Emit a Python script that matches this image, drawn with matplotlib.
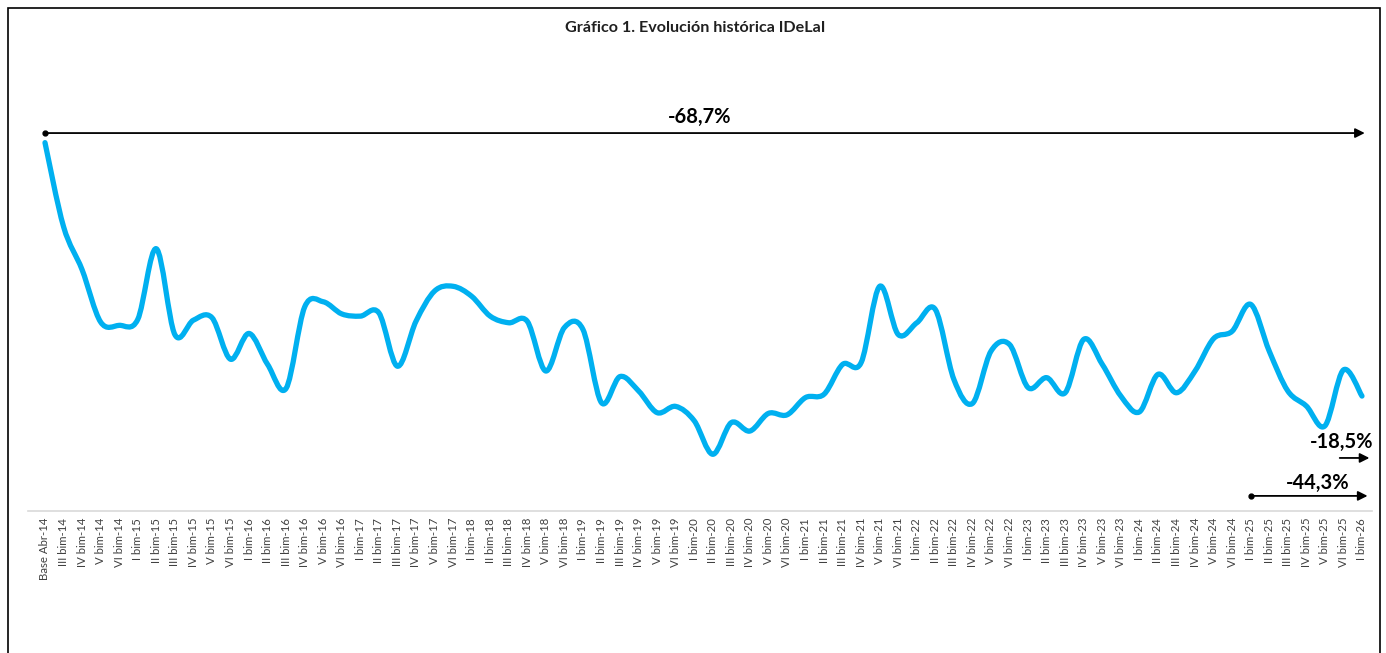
"""
Gráfico 1. Evolución histórica del IDeLaI
Índice con base Abr-14 = 100, línea suavizada al estilo Excel
"""

import matplotlib
matplotlib.use('Agg')
import matplotlib.pyplot as plt
from matplotlib.path import Path
from matplotlib.patches import PathPatch, Rectangle

plt.rcParams['font.family'] = ['Lato', 'DejaVu Sans']

# Categorías (bimestres)
romanos = ['I', 'II', 'III', 'IV', 'V', 'VI']
periodos = (['Base Abr-14'] + [f'{r} bim-14' for r in romanos[2:]]
            + [f'{r} bim-{a}' for a in range(15, 26) for r in romanos]
            + ['I bim-26'])

# Valores del índice
indice = [100.0, 77.2, 65.5, 51.3, 50.4, 52.0, 71.2, 47.9, 51.8, 52.5,
          41.2, 48.2, 39.8, 33.3, 55.4, 56.8, 53.5, 52.9, 53.8, 39.3,
          51.5, 59.7, 61.0, 58.3, 52.9, 51.1, 51.5, 38.0, 49.8, 49.3,
          29.4, 36.5, 32.6, 26.7, 28.4, 24.5, 15.4, 24.0, 21.7, 26.5,
          26.1, 30.8, 31.7, 39.8, 40.3, 61.0, 47.9, 51.1, 54.7, 35.7,
          29.2, 43.4, 45.2, 33.5, 36.2, 32.1, 46.6, 39.8, 31.2, 26.9,
          37.1, 32.1, 38.0, 46.8, 48.8, 56.1, 43.4, 32.6, 28.5, 23.1,
          38.3, 31.2]

# Variaciones señaladas con flechas
variaciones = ['-68,7%', '-18,5%', '-44,3%']

AZUL = '#00B0F0'


def curva_suave(x, y):
    """Construye un Path Bezier que pasa por todos los puntos (suavizado tipo Excel)."""
    n = len(x)
    verts = [(x[0], y[0])]
    codes = [Path.MOVETO]
    for i in range(n - 1):
        xa, ya = (x[i - 1], y[i - 1]) if i > 0 else (x[i], y[i])
        xd, yd = (x[i + 2], y[i + 2]) if i + 2 < n else (x[i + 1], y[i + 1])
        c1 = (x[i] + (x[i + 1] - xa) / 6, y[i] + (y[i + 1] - ya) / 6)
        c2 = (x[i + 1] - (xd - x[i]) / 6, y[i + 1] - (yd - y[i]) / 6)
        verts += [c1, c2, (x[i + 1], y[i + 1])]
        codes += [Path.CURVE4] * 3
    return Path(verts, codes)


def flecha(ax, x0, x1, y, punto=True):
    """Flecha horizontal con punto opcional en el origen."""
    ax.annotate('', xy=(x1, y), xytext=(x0, y),
                arrowprops=dict(arrowstyle='-|>', color='black', lw=1.3,
                                mutation_scale=14, shrinkA=0, shrinkB=0),
                annotation_clip=False)
    if punto:
        ax.plot([x0], [y], 'o', color='black', ms=3.5, clip_on=False)


def main():
    W, H = 1386, 653
    fig = plt.figure(figsize=(W / 100, H / 100), dpi=100)
    fig.patch.set_facecolor('white')

    # Marco del gráfico
    fig.patches.append(Rectangle((8 / W, -0.1), (1380 - 8) / W, 1.1 - 8 / H,
                                 transform=fig.transFigure, fill=False,
                                 edgecolor='black', lw=1.2))

    # Ejes: la escala sale de las posiciones de las categorías
    y_base, y_top = 511, 105.8
    ax = fig.add_axes([28 / W, (H - y_base) / H,
                       (1372 - 28) / W, (y_base - y_top) / H])
    x = list(range(len(periodos)))
    ax.set_xlim(-0.916, 71.54)
    ax.set_ylim(0, 110)

    ax.add_patch(PathPatch(curva_suave(x, indice), facecolor='none',
                           edgecolor=AZUL, lw=3.8, capstyle='round',
                           joinstyle='round'))

    ax.set_xticks(x)
    ax.set_xticklabels(periodos, rotation=90, fontsize=8.2, color='#404040',
                       va='top', ha='center')
    ax.tick_params(axis='x', length=0, pad=5)
    ax.set_yticks([])
    for lado in ['top', 'right', 'left']:
        ax.spines[lado].set_visible(False)
    ax.spines['bottom'].set_color('#d9d9d9')
    ax.spines['bottom'].set_linewidth(1.2)

    # Variación total desde la base
    flecha(ax, 0, 71.15, 102.6)
    ax.text(35.3, 107.0, variaciones[0], ha='center', va='center',
            fontsize=14.5, fontweight='bold', color='black')

    # Variación último bimestre
    flecha(ax, 69.8, 71.4, 14.4, punto=False)
    ax.text(69.9, 18.7, variaciones[1], ha='center', va='center',
            fontsize=14.5, fontweight='bold', color='black', clip_on=False)

    # Variación desde I bim-25
    flecha(ax, 65, 71.3, 4.1)
    ax.text(68.6, 7.6, variaciones[2], ha='center', va='center',
            fontsize=14.5, fontweight='bold', color='black')

    fig.text(695 / W, 1 - 28 / H, 'Gráfico 1. Evolución histórica IDeLaI',
             ha='center', va='center', fontsize=11.6, fontweight='bold',
             color='#202020')

    fig.savefig('out.png', dpi=100, facecolor='white')
    plt.close(fig)


if __name__ == '__main__':
    main()
